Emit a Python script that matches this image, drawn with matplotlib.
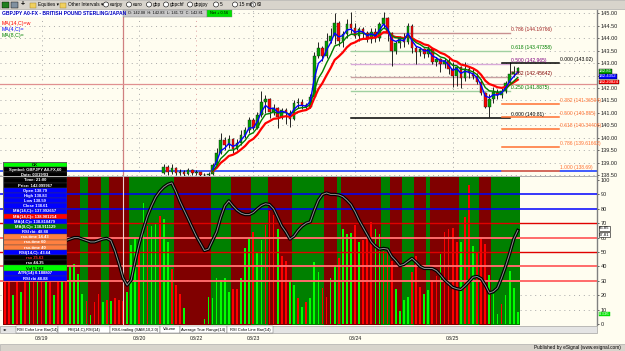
import numpy as np
import pandas as pd
import matplotlib
matplotlib.use("Agg")
import matplotlib.pyplot as plt
from matplotlib.patches import Rectangle, Ellipse
import matplotlib.transforms as mtrans

plt.rcParams['font.family'] = ['Liberation Sans', 'DejaVu Sans']

# ---------------- data ----------------
n_bars = 127
first_candle = 39          # candles below this bar are under the visible price range
first_open = 138.60

closes = [138.85, 138.65, 138.80, 138.60, 138.62, 138.55, 138.70, 138.58, 138.62, 138.52, 138.50, 138.55, 138.90,
          139.40, 139.90, 139.70, 139.95, 139.55, 139.80, 140.10, 140.30, 140.70, 140.40, 140.90, 141.45, 141.55,
          141.05, 141.20, 140.85, 141.10, 141.00, 140.75, 141.40, 141.45, 141.30, 141.25, 141.65, 143.30, 143.60,
          143.30, 143.90, 144.10, 144.60, 143.90, 144.15, 144.55, 144.40, 144.10, 144.35, 144.20, 143.95, 144.25,
          144.00, 144.55, 144.80, 144.20, 143.50, 143.80, 144.00, 143.85, 144.50, 143.60, 143.45, 143.55, 143.35,
          143.55, 143.05, 143.15, 142.95, 143.10, 142.75, 142.50, 142.85, 142.40, 142.75, 142.60, 142.50, 142.25,
          141.80, 141.25, 141.55, 141.85, 141.70, 141.90, 142.20, 142.55, 142.65, 142.81]
highs = [138.95, 138.90, 138.95, 138.85, 138.75, 138.72, 138.80, 138.75, 138.70, 138.65, 138.60, 138.62, 139.00,
         139.60, 140.20, 140.05, 140.10, 140.00, 139.95, 140.30, 140.45, 140.85, 140.80, 141.05, 141.90, 141.70,
         141.60, 141.35, 141.25, 141.20, 141.20, 141.10, 141.50, 141.60, 141.55, 141.40, 141.75, 143.45, 143.85,
         143.70, 144.20, 144.40, 145.00, 144.70, 144.30, 144.75, 145.05, 144.60, 144.45, 144.45, 144.30, 144.40,
         144.40, 144.65, 145.05, 144.85, 144.25, 143.90, 144.10, 144.20, 144.60, 144.55, 143.70, 143.65, 143.60,
         143.70, 143.60, 143.25, 143.20, 143.20, 143.30, 143.05, 142.90, 142.90, 143.05, 142.85, 142.75, 142.60,
         142.35, 141.85, 141.75, 142.05, 141.95, 142.00, 142.30, 143.05, 142.90, 142.85]
lows = [138.55, 138.50, 138.55, 138.50, 138.52, 138.45, 138.50, 138.50, 138.50, 138.45, 138.45, 138.45, 138.50,
        138.85, 139.35, 139.50, 139.60, 139.40, 139.50, 139.70, 140.00, 140.20, 140.30, 140.35, 140.85, 141.00,
        140.80, 140.90, 140.40, 140.75, 140.55, 140.45, 140.70, 141.20, 141.15, 141.10, 141.20, 141.60, 143.20,
        143.10, 143.20, 143.80, 143.75, 143.70, 143.65, 144.00, 144.20, 144.00, 143.90, 143.95, 143.85, 143.80,
        143.85, 143.90, 144.40, 143.90, 142.90, 143.35, 143.60, 143.65, 143.75, 143.40, 142.95, 143.30, 143.20,
        143.25, 142.95, 142.90, 142.65, 142.80, 142.55, 142.05, 142.10, 142.00, 142.30, 142.40, 142.35, 142.15,
        141.70, 141.20, 140.83, 141.40, 141.55, 141.60, 141.80, 142.15, 142.45, 142.60]

# lower pane: volume-like histogram, its colours, RSI line, trend background
volume = [38, 38, 20, 38, 22, 40, 40, 44, 42, 30, 48, 34, 20, 42, 30, 36, 40, 42, 35, 21, 16, 6, 15, 21,
          15.5, 17, 16, 18, 17, 16, 22, 55, 59, 57, 84, 68, 68, 70, 75, 72.7, 57, 38, 27, 21, 11,
          0, 0, 0, 0, 3.5, 19, 18, 32, 30.5, 32, 22, 24, 24.5,
          32, 53, 60, 64, 50, 58, 69, 78.7, 76, 66, 47, 44, 30, 27, 18, 12, 15.5, 18, 43, 36,
          25, 19, 32, 41, 45.6, 66, 62.5, 63, 69, 57, 58, 63, 71, 66, 62.5, 51, 50.7, 44, 24,
          9, 16.7, 19, 36, 47, 26, 21, 23.6, 30.6, 33, 48.6, 64, 65.7, 67, 57, 57, 74, 96.5, 54, 49,
          59.5, 55.5, 34, 21, 7, 14, 20, 37, 25, 8]
volume_dir = ("rrlrlrlrlrlrlrlrllllrlrr" "lrlrrrlllrlrllrllrrrl" "llll" "lllllllrr"
              "lllrllrrrl" "rrllrlrlll" "rrllrlllr" "lrrrllrrrl" "lllrrrllrr" "lrrrrlrrlr" "rrlllrllll")
rsi = [62, 61, 60, 59, 58, 57, 57, 58, 59, 60, 61, 61, 60, 59, 58, 58,
       59, 60, 60, 59, 58, 57, 57, 58,
       59, 59.5, 58, 51, 42, 32, 27, 30.5, 44, 56, 66, 75, 82, 88, 92, 95, 97, 98, 92, 85,
       79, 73, 67, 61, 56, 51, 52, 58, 64, 74, 82, 85.5, 82, 79, 77, 76, 76, 77.4, 80, 82.3,
       83.5, 83, 80, 74, 68, 64, 59, 61, 65, 68, 70, 71, 79, 86, 90, 91, 90, 90, 89.6, 88.5,
       86, 83, 78, 72, 67, 62, 57, 54, 52, 52.5, 52, 47, 44, 40.5, 41.4, 43.5, 45.6, 43, 40, 38.6,
       38.6, 38.5, 37, 34, 30.5, 28, 25.5, 24.5, 24, 26.5, 29.4, 32.5, 33, 31.5, 27, 21.5, 22.5, 25, 32, 40,
       49, 59, 65]
trend_runs = [('r', 19), ('g', 2), ('r', 3), ('g', 2), ('r', 5), ('g', 11), ('r', 9), ('g', 5), ('r', 5),
              ('g', 4), ('r', 6), ('g', 8), ('r', 3), ('g', 1), ('r', 10), ('g', 2), ('r', 3), ('g', 3),
              ('r', 3), ('g', 1), ('r', 7), ('g', 5), ('r', 3), ('g', 7)]

date_labels = ['03/19', '03/20', '03/22', '03/23', '03/24', '03/25']
date_bars = [9, 33, 47, 61, 86, 110]

# fibonacci sets: (low, high, levels)
fib1_low, fib1_high = 140.81, 145.12
fib1_levels = [0.786, 0.618, 0.5, 0.382, 0.25, 0.0]
fib1_start, fib1_end = 85, 124
fib2_top, fib2_bottom = 143.02, 138.69
fib2_levels = [0.0, 0.382, 0.5, 0.618, 0.786, 1.0]
fib2_start, fib2_end = 122, 136

cursor_bar, cursor_price = 29, 142.16
ma_spans = {'blue': 3, 'green': 6, 'red': 10}

info_rows = [("OK", '#00ff00', 'black'),
             ("Symbol: GBPJPY A0-FX,60", 'black', 'white'),
             ("Date: 03/19/03", 'black', 'white'),
             ("Time: 21:00", 'black', 'white'),
             ("Price: 142.099967", 'black', 'white'),
             ("Open 138.79", '#0000ff', 'white'),
             ("High 138.83", '#0000ff', 'white'),
             ("Low 138.59", '#0000ff', 'white'),
             ("Close 138.61", '#0000ff', 'white'),
             ("MA(14,C)= 137.992657", '#0000ff', 'white'),
             ("MA(14,C)= 138.901214", '#ff0000', 'white'),
             ("MA(4,C)= 138.810479", '#0000ff', 'white'),
             ("MA(8,C)= 138.911129", '#008000', 'white'),
             ("RSI rbi: 48.88", '#0000ff', 'white'),
             ("rsx-time 14.43", '#ff8040', 'white'),
             ("rsx-time 60", '#ff8040', 'white'),
             ("rsx-time 40", '#ff8040', 'white'),
             ("RSI(14,C): 43.64", '#0000ff', 'white'),
             ("rsx 35.63", 'black', '#ff3030'),
             ("rsx 44.35", 'black', 'white'),
             ("Vol 5,162", '#00ff00', 'black'),
             ("ATR(14) 0.188807", '#0000ff', 'white'),
             ("RSI rbi 48.88", '#0000ff', 'white')]

# ---------------- figure ----------------
W, H = 625, 351
CREAM = '#fffdf0'
fig = plt.figure(figsize=(W / 100, H / 100), dpi=100)
fig.patch.set_facecolor(CREAM)

def fx(px):
    return px / W

def fy(py):
    return 1 - py / H

xlim = (-5 / 4.07, (597 - 5) / 4.07)

# ---- price pane ----
ax1 = fig.add_axes([0, fy(177), fx(597), (177 - 10) / H])
ax1.set_facecolor(CREAM)
ax1.set_xlim(*xlim)
ax1.set_ylim(138.43, 145.13)
for p in np.arange(138.5, 145.01, 0.5):
    ax1.axhline(p, color='#a8a8a8', ls=(0, (1, 4)), lw=0.7, zorder=0)
for b in date_bars:
    col = '#e0a0a0' if b == 47 else '#a8a8a8'
    ax1.axvline(b, color=col, ls=(0, (1, 4)), lw=0.7, zorder=0)

ax1.axvline(cursor_bar, color='#d08080', lw=0.9, zorder=1)
ax1.axhline(cursor_price, color='#e09090', lw=0.9, zorder=1)
ax1.axhline(fib2_bottom, color='#2040ff', lw=1.2, zorder=1)

idx = np.arange(first_candle, first_candle + len(closes))
opens = [first_open] + closes[:-1]
for i, o, h, l, c in zip(idx, opens, highs, lows, closes):
    h = max(h, o, c)
    l = min(l, o, c)
    ax1.vlines(i, l, h, color='black', lw=0.6, zorder=3)
    col = '#00a000' if c >= o else '#ff0000'
    ax1.add_patch(Rectangle((i - 0.32, min(o, c)), 0.64, max(abs(c - o), 0.03),
                            facecolor=col, edgecolor='#202020', lw=0.3, zorder=4))

cs = pd.Series(closes, index=idx)
ma_start = 51
for colr, lw in [('red', 1.6), ('green', 1.0), ('blue', 1.0)]:
    ma = cs.ewm(span=ma_spans[colr], adjust=False).mean()
    ma = ma[ma.index >= ma_start]
    c = {'red': '#ff0000', 'green': '#008000', 'blue': '#0000ff'}[colr]
    ax1.plot(ma.index, ma.values, color=c, lw=lw, zorder=5)

fib1_colors = {0.786: ('#c89090', '#a02020'), 0.618: ('#a0d0a0', '#008000'),
               0.5: ('#d8a8d8', '#800080'), 0.382: ('#c8a0a0', '#800000'),
               0.25: ('#a0d0a0', '#008000'), 0.0: ('black', 'black')}
for lv in fib1_levels:
    price = fib1_low + lv * (fib1_high - fib1_low)
    lc, tc = fib1_colors[lv]
    ax1.plot([fib1_start, fib1_end], [price, price], color=lc, lw=1.0 if lv else 1.1, zorder=2)
    ax1.text(fib1_end + 0.3, price + 0.04, f"{lv:.3f} ({f'{price:.5f}'.rstrip('0')})",
             fontsize=3.6, color=tc, va='bottom', ha='left', zorder=6)
for lv in fib2_levels:
    price = fib2_top - lv * (fib2_top - fib2_bottom)
    lc = 'black' if lv == 0 else '#ff7030'
    ax1.plot([fib2_start, fib2_end], [price, price], color=lc, lw=1.1, zorder=2)
    ax1.text(fib2_end + 0.3, price + 0.04, f"{lv:.3f} ({f'{price:.5f}'.rstrip('0')})",
             fontsize=3.6, color=lc, va='bottom', ha='left', zorder=6)

ax1.yaxis.tick_right()
ax1.set_yticks(np.arange(138.5, 145.01, 0.5))
ax1.set_yticklabels([f"{v:.2f}" for v in np.arange(138.5, 145.01, 0.5)])
ax1.tick_params(axis='y', labelsize=4, length=1.5, pad=1, width=0.5, colors='#202020')
ax1.set_xticks([])
for s in ['top', 'left', 'bottom']:
    ax1.spines[s].set_visible(False)
ax1.spines['right'].set_color('#808080')
ax1.spines['right'].set_linewidth(1.0)

# last-value tags on the price scale (nudged apart like the platform does)
tags = [(closes[-1], f"{closes[-1]:.2f}", '#00a000', -2.6),
        (142.4352, "142.4352", '#0000ff', 0.6),
        (142.20824, "142.20824", '#ff0000', 0.4)]
for val, txt, col, off in tags:
    ax1.annotate(txt, xy=(1.0, val), xycoords=('axes fraction', 'data'), xytext=(1.5, off),
                 textcoords='offset points', fontsize=3.1, color='white', va='center', ha='left',
                 bbox=dict(boxstyle='square,pad=0.05', fc=col, ec='black', lw=0.3),
                 annotation_clip=False, zorder=7)

# ---- indicator pane ----
ax2 = fig.add_axes([0, fy(325), fx(597), (325 - 177) / H])
ax2.set_facecolor(CREAM)
ax2.set_xlim(*xlim)
ax2.set_ylim(-0.7, 102.1)
pos = 0
for state, run in trend_runs:
    ax2.axvspan(pos - 0.5, pos + run - 0.5, color='#800000' if state == 'r' else '#008000', lw=0, zorder=1)
    pos += run
for lv in [20, 10]:
    ax2.axhline(lv, color='#a8a8a8', ls=(0, (1, 4)), lw=0.7, zorder=0.5)
bars_x = np.arange(n_bars)
ax2.bar(bars_x, volume, width=0.42, color=['#ff0000' if d == 'r' else '#00ff00' for d in volume_dir],
        lw=0, zorder=2)
for lv, col, lw in [(90, '#0000ff', 1.1), (80, '#0000ff', 1.1), (70, '#e00000', 1.0), (60, '#ff6a6a', 1.4),
                    (50, '#e00000', 1.0), (40, '#ff6a6a', 1.4), (30, '#ff6a6a', 1.4)]:
    ax2.axhline(lv, color=col, lw=lw, zorder=3)
ax2.axvline(cursor_bar, color='#f0d0d0', lw=0.8, zorder=3)
ax2.plot(bars_x, rsi, color='black', lw=2.4, zorder=4, solid_joinstyle='round')
ax2.plot(bars_x, rsi, color='#909090', lw=0.7, zorder=5)

ax2.yaxis.tick_right()
ax2.set_yticks(range(0, 101, 10))
ax2.tick_params(axis='y', labelsize=4, length=1.5, pad=1, width=0.5, colors='#202020')
ax2.set_xticks([])
for s in ['top', 'left', 'bottom']:
    ax2.spines[s].set_visible(False)
ax2.spines['right'].set_color('#808080')
ax2.spines['right'].set_linewidth(1.0)
for val, txt, off in [(65.85, "65.85", 0.5), (57.81, "57.81", 4.5)]:
    ax2.annotate(txt, xy=(1.0, val), xycoords=('axes fraction', 'data'), xytext=(1.5, off),
                 textcoords='offset points', fontsize=3.1, color='black', va='center', ha='left',
                 bbox=dict(boxstyle='square,pad=0.05', fc='white', ec='black', lw=0.4),
                 annotation_clip=False, zorder=7)
ax2.annotate("8.336", xy=(1.0, 7.0), xycoords=('axes fraction', 'data'), xytext=(1.5, 0),
             textcoords='offset points', fontsize=3.1, color='white', va='center', ha='left',
             bbox=dict(boxstyle='square,pad=0.05', fc='#00e000', ec='#00e000', lw=0.3),
             annotation_clip=False, zorder=7)

# date labels under the panes
tr = mtrans.blended_transform_factory(ax2.transData, fig.transFigure)
for b, lab in zip(date_bars, date_labels):
    ax2.text(b, fy(338), lab, transform=tr, fontsize=3.8, ha='center', va='center', color='#202020')

# ---- chrome: toolbar, header, tabs, status bar ----
fig.add_artist(Rectangle((0, fy(9)), 1, 9 / H, transform=fig.transFigure, fc='#d8d4cc', ec='#a0a0a0', lw=0.4))
fig.add_artist(Rectangle((fx(2), fy(8)), fx(7), 6 / H, transform=fig.transFigure, fc='#208020', ec='black', lw=0.3))
fig.add_artist(Rectangle((fx(11), fy(8)), fx(7), 6 / H, transform=fig.transFigure, fc='#8090a0', ec='black', lw=0.3))
fig.text(fx(23), fy(4.5), "+", fontsize=5, ha='center', va='center', fontweight='bold')
for px, lab in [(30, "Equities \u25be"), (60, "Other Intervals \u25be")]:
    fig.add_artist(Rectangle((fx(px), fy(7.5)), fx(6), 5 / H, transform=fig.transFigure, fc='#f0d060',
                             ec='#a08020', lw=0.3))
    fig.text(fx(px + 8), fy(4.5), lab, fontsize=3.4, va='center', ha='left')
for px, lab in [(106, "eurjpy"), (129, "euro"), (149, "gbp"), (166, "gbpchf"), (190, "gbpjpy"),
                (216, "5"), (235, "15 min"), (253, "60")]:
    fig.add_artist(Ellipse((fx(px), fy(4.5)), fx(5), 5 / H, transform=fig.transFigure, fc='white',
                           ec='black', lw=0.4))
    fig.text(fx(px + 4), fy(4.5), lab, fontsize=3.4, va='center', ha='left')

fig.add_artist(Rectangle((0, fy(17)), fx(123), 7 / H, transform=fig.transFigure, fc='white', ec='none'))
fig.text(fx(2), fy(13.5), "GBPJPY A0-FX - BRITISH POUND STERLING/JAPAN", fontsize=3.6, color='#0000c0',
         fontweight='bold', va='center', ha='left')
fig.add_artist(Rectangle((fx(123), fy(17)), fx(84), 7 / H, transform=fig.transFigure, fc='#c8c8c8',
                         ec='#808080', lw=0.3))
fig.text(fx(165), fy(13.5), "O: 142.08  H: 142.83  L: 141.72  C: 142.81", fontsize=2.8, va='center',
         ha='center')
fig.add_artist(Rectangle((fx(207), fy(17)), fx(25), 7 / H, transform=fig.transFigure, fc='#00e000',
                         ec='#808080', lw=0.3))
fig.text(fx(219.5), fy(13.5), "Net + 0.56", fontsize=2.8, va='center', ha='center')
for py, lab, col in [(24, "MA(14,C)=w", '#ff0000'), (30, "MA(4,C)=", '#0000ff'), (36, "MA(8,C)=", '#008000')]:
    fig.text(fx(2), fy(py), lab, fontsize=3.8, color=col, va='center', ha='left')

fig.add_artist(Rectangle((0, fy(177)), fx(597), 1.5 / H, transform=fig.transFigure, fc='#b0b0b0', ec='none'))
fig.add_artist(Rectangle((0, fy(333)), fx(597), 7 / H, transform=fig.transFigure, fc='#e4e4e4',
                         ec='#909090', lw=0.4))
fig.text(fx(3), fy(329.5), "\u25c2\u25b8", fontsize=3.2, va='center', ha='left')
for x0, x1, lab in [(16, 58, "RSI Color Line Bar(14)"), (58, 110, "RSI(14,C),RSI(14)"),
                    (110, 160, "RSX-trailing (SAM,10,2.0)"), (160, 180, "Volume"),
                    (180, 227, "Average True Range(14)"), (227, 273, "RSI Color Line Bar(14)")]:
    fig.add_artist(Rectangle((fx(x0), fy(333)), fx(x1 - x0), 7 / H, transform=fig.transFigure,
                             fc='white', ec='#606060', lw=0.3))
    fig.text(fx((x0 + x1) / 2), fy(329.5), lab, fontsize=2.9, va='center', ha='center')
fig.add_artist(Rectangle((0, 0), 1, 7 / H, transform=fig.transFigure, fc='#d8d4cc', ec='#a0a0a0', lw=0.4))
fig.text(fx(621), fy(347.5), "Published by eSignal (www.esignal.com)", fontsize=3.4, va='center', ha='right')

# ---- data window overlay ----
axb = fig.add_axes([fx(3), fy(281), fx(64), 119 / H])
axb.set_xlim(0, 1)
axb.set_ylim(len(info_rows), 0)
axb.axis('off')
for r, (txt, bg, fg) in enumerate(info_rows):
    axb.add_patch(Rectangle((0, r), 1, 1, fc=bg, ec='#404040', lw=0.25))
    axb.text(0.5, r + 0.55, txt, fontsize=3.0, color=fg, ha='center', va='center', fontweight='bold')
axb.add_patch(Rectangle((0, 0), 1, len(info_rows), fc='none', ec='#606060', lw=0.8))

fig.savefig("out.png", dpi=100, facecolor=fig.get_facecolor())
